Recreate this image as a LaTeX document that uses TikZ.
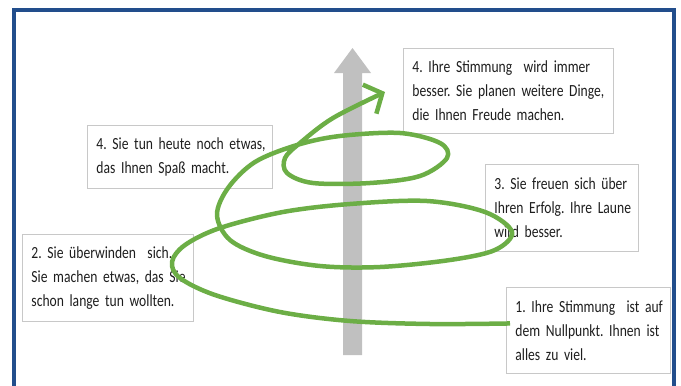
\documentclass[tikz,border=0pt]{standalone}
\usepackage{fontspec}
\setmainfont{Carlito}[FakeStretch=0.80]
\usetikzlibrary{arrows.meta}
\definecolor{framebl}{RGB}{34,78,140}
\definecolor{spiralgr}{RGB}{108,174,70}
\definecolor{shaftgr}{RGB}{192,192,192}
\definecolor{boxgr}{RGB}{200,200,200}
\definecolor{notetext}{RGB}{30,30,30}
% type used inside the notes: condensed Carlito, 24pt leading, narrow word gaps
\newcommand{\notefont}{\fontsize{17}{24}\selectfont\frenchspacing
  \setlength{\spaceskip}{3.6pt plus 1pt minus 1pt}}
% one unbreakable line of a note
\newcommand{\noteline}[1]{\mbox{#1}}
\begin{document}
\begin{tikzpicture}[x=1pt,y=-1pt,
  note/.style={draw=boxgr, line width=0.9pt, fill=white, anchor=north west,
    inner xsep=9pt, inner ysep=0pt, align=left, text=notetext,
    font=\notefont},
  spiral/.style={draw=spiralgr, line width=4.5pt, line join=round},
  framebar/.style={draw=framebl, line width=4pt}]
\useasboundingbox (0,0) rectangle (681,386);

% blue frame, open at the bottom
\draw[framebar] (14,392) -- (14,10) -- (674,10) -- (674,392);

% rising grey block arrow
\fill[shaftgr] (343,355) -- (343,73) -- (334,73) -- (352.5,48) -- (371,73)
  -- (362,73) -- (362,355) -- cycle;

% stage notes
\node[note, text width=192pt, minimum height=85pt] (b4r) at (403,48)
  {\noteline{4. Ihre Stimmung\ \ wird immer}\\\noteline{besser. Sie planen weitere Dinge,}\\\noteline{die Ihnen Freude machen.}};
\node[note, text width=167pt, minimum height=63pt] (b4l) at (87,125)
  {\noteline{4. Sie tun heute noch etwas,}\\\noteline{das Ihnen Spaß macht.}};
\node[note, text width=135pt, minimum height=87pt] (b3) at (485,164)
  {\noteline{3. Sie freuen sich über}\\\noteline{Ihren Erfolg. Ihre Laune}\\\noteline{wird besser.}};
\node[note, text width=153pt, minimum height=87pt] (b2) at (22,234)
  {\noteline{2. Sie überwinden\ \ sich.}\\\noteline{Sie machen etwas, das Sie}\\\noteline{schon lange tun wollten.}};
\node[note, text width=146pt, minimum height=86pt] (b1) at (506,287)
  {\noteline{1. Ihre Stimmung\ \ ist auf}\\\noteline{dem Nullpunkt. Ihnen ist}\\\noteline{alles zu viel.}};

% spiral path from the first note up to the arrow tip
\coordinate (tip) at (385,92);
\draw[spiral, -{Straight Barb[length=14pt,width=32pt]}]
  plot[smooth, tension=0.55] coordinates {
    ([shift={(4,-7)}]b1.west)
    (430,324) (350,321) (280,312) (215,295) (180,278) (172,262)
    (185,245) (220,228) (283,212) (350,204) (427,201) (485,212)
    (512,232) (495,250) (450,260) (380,267) (320,266) (265,256)
    (230,240) (217,215) (228,188) (255,162) (297,145) (340,136)
    (400,133) (440,143) (447,158) (420,176) (370,183) (313,183)
    (287,173) (285,158) (300,143) (333,118) (tip)
  };
\end{tikzpicture}
\end{document}
